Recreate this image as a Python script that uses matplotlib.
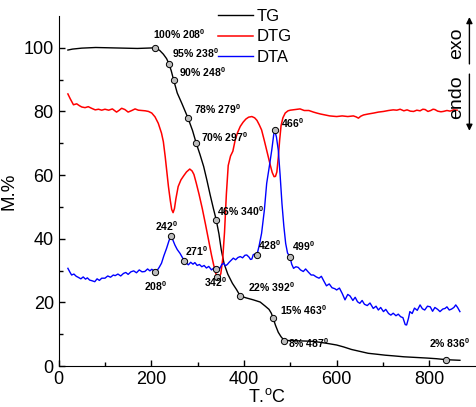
import matplotlib
matplotlib.use("Agg")
import matplotlib.pyplot as plt
import numpy as np

plt.rcParams["font.family"] = ["Liberation Sans", "DejaVu Sans"]
plt.rcParams["mathtext.fontset"] = "custom"
plt.rcParams["mathtext.rm"] = "Liberation Sans"
plt.rcParams["mathtext.bf"] = "Liberation Sans:bold"

# TG (mass loss, %)
tg_t = [20, 30, 50, 80, 110, 140, 170, 190, 208, 218, 226, 233, 238, 243, 248,
        256, 266, 279, 289, 297, 305, 313, 320, 327, 334, 340, 346, 351, 357,
        365, 375, 384, 392, 405, 420, 435, 446, 454, 459, 463, 468, 474, 480,
        487, 500, 520, 543, 562, 580, 600, 615, 632, 650, 668, 687, 705, 722,
        745, 770, 795, 815, 836, 850, 866]
tg_m = [99.3, 99.6, 99.9, 100.1, 100.0, 99.9, 99.8, 99.9, 100.0, 99.2, 98.0,
        96.6, 95.0, 92.8, 90.0, 85.8, 82.5, 78.0, 74.0, 70.0, 66.5, 62.7, 58.4,
        53.8, 49.5, 46.0, 41.5, 36.5, 32.2, 28.9, 26.0, 24.0, 22.0, 21.4, 20.8,
        20.1, 18.8, 17.8, 16.6, 15.0, 12.8, 10.6, 9.2, 8.0, 8.0, 7.9, 7.8, 7.5,
        7.1, 6.6, 6.0, 5.2, 4.6, 4.0, 3.7, 3.4, 3.2, 2.9, 2.7, 2.5, 2.3, 2.0,
        1.9, 1.8]

# DTG
dtg_t = [20, 25, 32, 39, 45, 50, 57, 64, 71, 79, 86, 93, 100, 108, 116, 125,
         131, 136, 143, 150, 158, 165, 172, 180, 187, 194, 201, 208, 215, 222,
         226, 230, 234, 237, 241, 244, 247, 250, 253, 258, 264, 270, 276, 283,
         288, 292, 297, 303, 310, 317, 323, 330, 335, 339, 342, 346, 350, 354,
         358, 362, 366, 371, 376, 381, 386, 392, 398, 404, 410, 417, 423, 428,
         433, 438, 444, 449, 453, 457, 461, 465, 468, 471, 474, 477, 480, 484,
         489, 495, 500, 510, 521, 530, 540, 550, 557, 565, 575, 585, 600, 612,
         624, 636, 642, 647, 652, 658, 668, 680, 690, 701, 712, 722, 730, 737,
         745, 752, 759, 766, 773, 780, 786, 791, 797, 803, 808, 812, 818, 825,
         830, 838, 845, 852, 860]
dtg_v = [85.5, 84.0, 82.1, 82.4, 81.8, 81.4, 81.2, 81.5, 81.0, 80.5, 80.7,
         80.4, 80.7, 80.4, 80.8, 79.8, 80.4, 81.0, 80.6, 79.8, 80.3, 80.8, 80.4,
         80.3, 80.2, 80.0, 79.5, 78.3, 76.3, 73.2, 70.5, 65.8, 60.5, 56.4, 52.0,
         49.2, 48.2, 49.5, 52.5, 56.4, 58.5, 59.8, 61.0, 61.9, 61.3, 60.2, 57.5,
         54.0, 49.5, 44.5, 40.0, 34.8, 31.5, 29.2, 28.0, 27.9, 29.0, 33.5, 42.0,
         54.0, 63.0, 66.0, 67.5, 71.0, 73.3, 75.3, 76.6, 77.6, 78.2, 78.4, 78.0,
         77.2, 75.8, 74.2, 70.8, 67.8, 65.5, 63.0, 60.8, 59.5, 59.6, 61.0, 65.5,
         71.0, 75.5, 78.0, 79.5, 80.2, 80.4, 80.6, 80.8, 80.3, 80.3, 79.8, 79.5,
         79.2, 78.9, 78.6, 78.4, 78.6, 78.4, 78.6, 78.3, 77.9, 78.5, 78.9, 79.2,
         79.5, 79.8, 80.0, 80.3, 80.5, 80.4, 80.7, 80.2, 80.5, 80.1, 80.0, 80.4,
         80.2, 80.7, 80.6, 80.0, 80.3, 80.7, 80.6, 80.1, 79.9, 80.0, 80.3, 80.1,
         80.5, 80.4]

# DTA
dta_t = [20, 24, 28, 33, 38, 42, 48, 53, 58, 62, 67, 72, 78, 83, 88, 93, 100,
         106, 112, 118, 122, 128, 134, 140, 145, 150, 156, 162, 168, 174, 180,
         186, 192, 197, 201, 205, 208, 212, 217, 222, 227, 233, 238, 242, 246,
         251, 256, 262, 266, 271, 276, 280, 285, 290, 294, 299, 304, 309, 314,
         319, 324, 330, 335, 340, 344, 348, 352, 356, 360, 364, 368, 372, 377,
         382, 387, 392, 397, 402, 406, 411, 414, 417, 420, 424, 428, 433, 438,
         444, 449, 455, 460, 464, 466, 470, 474, 478, 482, 486, 490, 494, 499,
         503, 507, 512, 517, 522, 528, 533, 539, 545, 550, 556, 562, 567, 572,
         578, 584, 590, 596, 600, 606, 612, 618, 624, 629, 635, 640, 645, 650,
         655, 660, 666, 672, 679, 685, 690, 695, 701, 706, 712, 717, 722, 728,
         733, 738, 743, 748, 751, 755, 758, 763, 768, 774, 780, 785, 790, 796,
         802, 807, 812, 818, 823, 829, 834, 838, 843, 848, 853, 857, 861, 866]
dta_v = [30.7, 29.6, 28.6, 28.9, 28.2, 27.9, 27.4, 28.0, 27.3, 27.7, 27.0,
         26.8, 26.5, 27.4, 26.9, 27.6, 27.6, 28.3, 27.9, 28.6, 28.4, 28.9, 28.3,
         29.1, 29.4, 28.8, 29.6, 29.9, 29.3, 30.2, 29.6, 29.7, 30.5, 29.9, 30.4,
         30.0, 29.5, 29.9, 31.0, 32.3, 34.6, 37.0, 39.3, 40.9, 39.8, 38.0, 36.6,
         35.4, 34.4, 33.1, 32.3, 31.8, 32.6, 32.0, 32.5, 31.6, 31.9, 31.2, 31.6,
         30.8, 31.3, 30.2, 30.8, 30.4, 30.9, 30.7, 31.9, 32.3, 31.5, 31.9, 32.6,
         33.2, 33.9, 33.4, 34.1, 34.4, 34.0, 34.8, 34.9, 34.2, 33.5, 33.6, 35.0,
         35.2, 34.9, 38.0, 41.7, 49.0, 57.4, 63.0, 67.9, 72.5, 74.2, 72.0, 67.9,
         60.0, 51.0, 44.0, 38.5, 35.5, 34.4, 32.0, 30.7, 31.2, 31.0, 30.2, 29.7,
         30.5, 29.5, 28.6, 28.6, 28.0, 27.6, 28.2, 26.8, 25.2, 25.8, 24.6, 24.3,
         23.9, 24.5, 22.8, 20.8, 22.5, 22.0, 20.6, 21.6, 20.2, 19.7, 20.6, 19.4,
         19.0, 19.8, 18.1, 18.8, 17.6, 18.4, 17.1, 17.8, 16.5, 16.0, 16.6, 15.8,
         16.3, 15.5, 15.2, 13.0, 12.9, 15.0, 17.1, 16.5, 18.2, 17.5, 19.2, 18.0,
         17.6, 18.8, 18.6, 17.2, 18.4, 17.8, 17.1, 17.9, 18.1, 18.6, 17.6, 17.9,
         18.4, 19.2, 18.4, 17.1]

# labelled points
tg_pts_t = [208, 238, 248, 279, 297, 340, 392, 463, 487, 836]
tg_pts_m = [100, 95, 90, 78, 70, 46, 22, 15, 8, 2]
dta_pts_t = [208, 242, 271, 340, 428, 466, 499]
dtg_pts_t = [342]

# text offsets in pixels (left edge, vertical centre)
tg_off = [(-2, 14), (3, 11), (5, 8), (6, 9), (5, 6), (1, 9), (8, 9),
          (7, 8), (4, -3), (-17, 17)]
dta_off = [(-11, -14), (-16, 10), (1, 10), None, (1, 10), (6, 7), (2, 10)]
dtg_off = [(-13, -5)]

fig = plt.figure(figsize=(4.77, 4.07), dpi=100)
ax = fig.add_axes([0.1229, 0.1007, 0.8743, 0.86])

l_tg, = ax.plot(tg_t, tg_m, color="black", lw=1.0)
l_dtg, = ax.plot(dtg_t, dtg_v, color="red", lw=1.1)
l_dta, = ax.plot(dta_t, dta_v, color="blue", lw=1.0)

mk = dict(marker="o", ms=4.5, mfc="#bdbdbd", mec="black", mew=0.7, ls="none")
dta_pts_v = np.interp(dta_pts_t, dta_t, dta_v)
dtg_pts_v = np.interp(dtg_pts_t, dtg_t, dtg_v)
ax.plot(tg_pts_t, tg_pts_m, **mk)
ax.plot(dta_pts_t, dta_pts_v, **mk)
ax.plot(dtg_pts_t, dtg_pts_v, **mk)

lab = dict(textcoords="offset pixels", fontsize=7.5, fontweight="bold",
           ha="left", va="center")
sup = r"$^\mathbf{0}$"
for t, m, off in zip(tg_pts_t, tg_pts_m, tg_off):
    ax.annotate(f"{m}% {t}" + sup, (t, m), xytext=off, **lab)
for t, v, off in zip(dta_pts_t, dta_pts_v, dta_off):
    if off is not None:
        ax.annotate(f"{t}" + sup, (t, v), xytext=off, **lab)
for t, v, off in zip(dtg_pts_t, dtg_pts_v, dtg_off):
    ax.annotate(f"{t}" + sup, (t, v), xytext=off, **lab)

ax.set_xlim(0, 900)
ax.set_ylim(0, 110)
ax.set_xticks([0, 200, 400, 600, 800])
ax.set_xticks([100, 300, 500, 700], minor=True)
ax.set_yticks([0, 20, 40, 60, 80, 100])
ax.set_yticks([10, 30, 50, 70, 90], minor=True)
ax.tick_params(which="both", direction="in", labelsize=13, width=1)
ax.tick_params(which="major", length=4)
ax.tick_params(which="minor", length=3)
for s in ("top", "right"):
    ax.spines[s].set_visible(False)

ax.set_xlabel(r"T.$^\mathrm{o}$C", fontsize=13, labelpad=0)
ax.set_ylabel("M.%", fontsize=13.5, labelpad=4)

ax.legend([l_tg, l_dtg, l_dta], ["TG", "DTG", "DTA"], loc="upper left",
          bbox_to_anchor=(0.382, 1.021), frameon=False, fontsize=12,
          borderpad=0, borderaxespad=0, handlelength=2.1,
          handletextpad=0.25, labelspacing=0.35)

# exo / endo direction arrow
arr = dict(arrowstyle="-|>", lw=1, color="black", mutation_scale=9,
           shrinkA=0, shrinkB=0)
ax.annotate("", xy=(0.985, 0.997), xytext=(0.985, 0.863),
            xycoords="axes fraction", arrowprops=arr)
ax.annotate("", xy=(0.985, 0.672), xytext=(0.985, 0.834),
            xycoords="axes fraction", arrowprops=arr)
ax.text(0.955, 0.923, "exo", transform=ax.transAxes, rotation=90,
        fontsize=14, ha="center", va="center")
ax.text(0.955, 0.769, "endo", transform=ax.transAxes, rotation=90,
        fontsize=14, ha="center", va="center")

fig.savefig("out.png", dpi=100)
